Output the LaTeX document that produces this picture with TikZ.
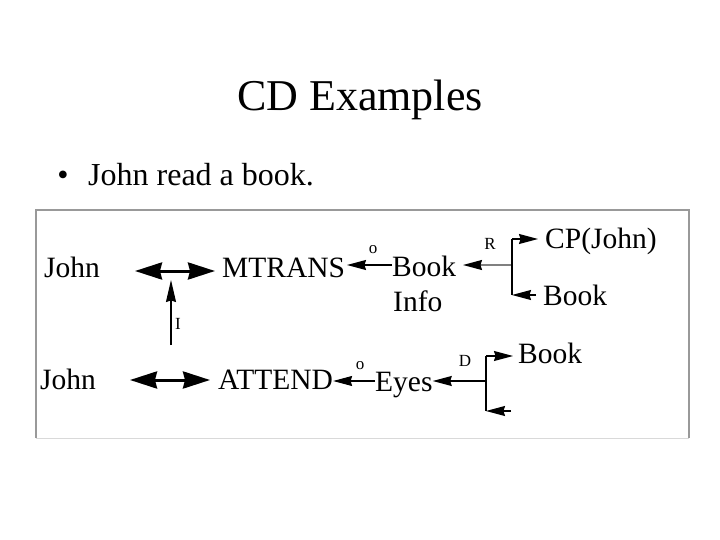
\documentclass[tikz,border=0pt]{standalone}
\usepackage{fontspec}
\setmainfont{Liberation Serif}
\usetikzlibrary{arrows.meta}
\begin{document}
\begin{tikzpicture}[x=1pt,y=-1pt,
  txt/.style={inner sep=0pt,anchor=base west,font=\fontsize{29.5}{30}\selectfont},
  lbl/.style={inner sep=0pt,anchor=base,font=\fontsize{17}{18}\selectfont},
  big/.style={line width=3pt,{Stealth[length=27pt,width=17pt,inset=2pt]}-{Stealth[length=27pt,width=17pt,inset=2pt]}},
  sm/.style={line width=1.1pt,-{Stealth[length=19pt,width=10pt,inset=1.5pt]}},
  smg/.style={line width=1.5pt,draw=gray,-{Stealth[length=19pt,width=10pt,inset=1.5pt,color=black]}}]
\useasboundingbox (0,0) rectangle (720,540);
% title and bullet
\node[inner sep=0pt,anchor=base,font=\fontsize{44}{46}\selectfont] (title) at (360,111) {CD Examples};
\node[inner sep=0pt,anchor=base,font=\fontsize{32}{34}\selectfont] (bul) at (63,186) {\textbullet};
\node[inner sep=0pt,anchor=base west,font=\fontsize{32}{34}\selectfont] (sent) at (88,186) {John read a book.};
% frame
\draw[draw=gray!80,line width=1.2pt] (36,438) -- (36,210) -- (689,210) -- (689,438);
\draw[draw=gray!30,line width=1pt] (36,438) -- (689,438);
% row 1
\node[txt] (john1) at (44,277) {John};
\node[txt] (mtrans) at (222,277) {MTRANS};
\node[txt] (book1) at (392,276) {Book};
\node[txt] (info) at (393,311) {Info};
\node[txt] (cp) at (545,248) {CP(John)};
\node[txt] (book2) at (543,305) {Book};
% row 2
\node[txt] (john2) at (40,389) {John};
\node[txt] (attend) at (218,389) {ATTEND};
\node[txt] (eyes) at (375,391) {Eyes};
\node[txt] (book3) at (518,363) {Book};
% coordinates
\coordinate (a1l) at (135,271);
\coordinate (a1r) at (215,271);
\coordinate (a2l) at (130,380);
\coordinate (a2r) at (210,380);
\coordinate (ibot) at (171,345);
\coordinate (itop) at (171,280);
\coordinate (f1) at (512,265);
\coordinate (f1t) at (512,239);
\coordinate (f1b) at (512,295);
\coordinate (f1be) at (536,295);
\coordinate (f2) at (486,381);
\coordinate (f2t) at (486,356);
\coordinate (f2b) at (486,411);
\coordinate (f2be) at (511,411);
% big double arrows
\draw[big] (a1l) -- (a1r);
\draw[big] (a2l) -- (a2r);
% I arrow
\draw[line width=1.2pt,-{Stealth[length=22pt,width=10pt,inset=1.5pt]}] (ibot) -- (itop);
\node[lbl] (ilbl) at (178,329) {I};
% MTRANS <- Book
\draw[sm] (book1.west |- f1) -- (347,265);
\node[lbl] (o1) at (373,253) {o};
% Book <- fork (R)
\draw[smg] (f1) -- (463,265);
\draw[line width=1.2pt] (f1t) -- (f1b);
\draw[sm] (f1t) -- (538,239);
\draw[sm] (f1be) -- (f1b);
\node[lbl] (r) at (490,249) {R};
% ATTEND <- Eyes
\draw[sm] (eyes.west |- f2) -- (attend.east |- f2);
\node[lbl] (o2) at (360,369) {o};
% Eyes <- fork (D)
\draw[sm] (f2) -- (eyes.east |- f2);
\draw[line width=1.2pt] (f2t) -- (f2b);
\draw[sm] (f2t) -- (513,356);
\draw[sm] (f2be) -- (f2b);
\node[lbl] (d) at (465,366) {D};
\end{tikzpicture}
\end{document}
